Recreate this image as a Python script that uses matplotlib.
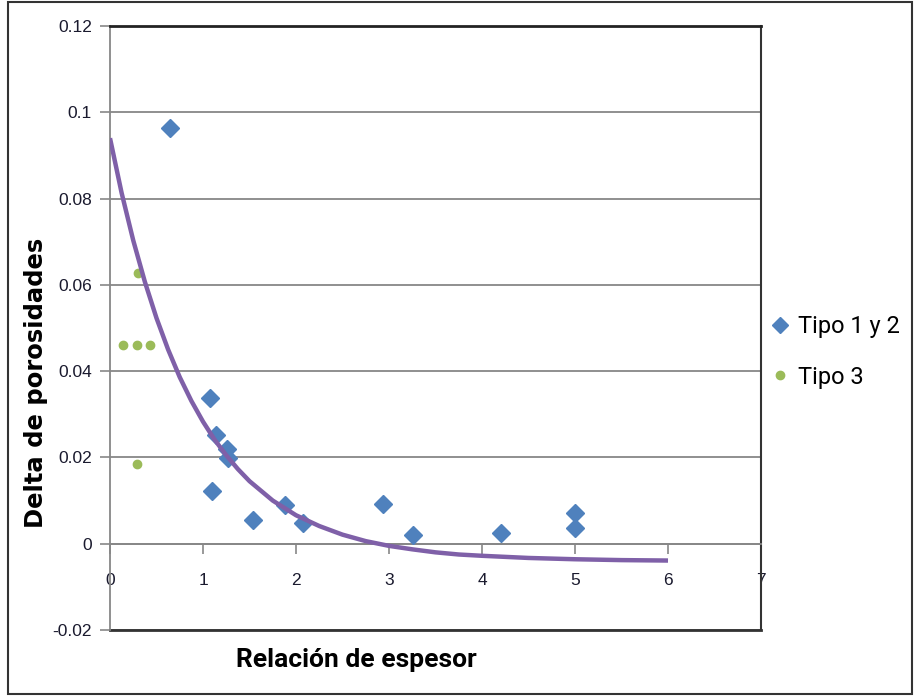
import matplotlib
matplotlib.use("Agg")
import matplotlib.pyplot as plt
from matplotlib.patches import Rectangle
from matplotlib.lines import Line2D

# datos
tipo12_x = [0.65, 1.08, 1.14, 1.26, 1.27, 1.10, 1.54, 1.88, 2.08, 2.94, 3.26, 4.20, 5.00, 5.00]
tipo12_y = [0.0964, 0.0338, 0.0253, 0.0220, 0.0199, 0.0123, 0.0056, 0.0090, 0.0049, 0.0093, 0.0021, 0.0025, 0.0072, 0.0037]

tipo3_x = [0.30, 0.14, 0.29, 0.43, 0.29]
tipo3_y = [0.0628, 0.0461, 0.0461, 0.0461, 0.0185]

# linea de tendencia
trend_x = [0, 0.125, 0.25, 0.375, 0.5, 0.625, 0.75, 0.875, 1.0, 1.125, 1.25, 1.375,
           1.5, 1.75, 2.0, 2.25, 2.5, 2.75, 3.0, 3.25, 3.5, 3.75, 4.0, 4.5, 5.0, 5.5, 6.0]
trend_y = [0.0940, 0.0813, 0.0703, 0.0607, 0.0523, 0.0450, 0.0386, 0.0331, 0.0283,
           0.0241, 0.0205, 0.0173, 0.0145, 0.0100, 0.0066, 0.0041, 0.0021, 0.0006,
           -0.0005, -0.0013, -0.0020, -0.0025, -0.0028, -0.0033, -0.0036, -0.0038, -0.0039]

x_ticks = [0, 1, 2, 3, 4, 5, 6, 7]
y_ticks = [-0.02, 0, 0.02, 0.04, 0.06, 0.08, 0.10, 0.12]
y_labels = ["-0.02", "0", "0.02", "0.04", "0.06", "0.08", "0.1", "0.12"]

azul = "#4F81BD"
verde = "#9BBB59"
morado = "#7F60A8"
gris = "#878787"
narrow = ["Roboto", "DejaVu Sans"]

fig = plt.figure(figsize=(9.17, 6.96), dpi=100)
ax = fig.add_axes([110 / 917, 1 - 630 / 696, (761 - 110) / 917, (630 - 26) / 696])

ax.plot(tipo12_x, tipo12_y, "D", color=azul, ms=9, mec=azul, ls="none", label="Tipo 1 y 2", zorder=3)
ax.plot(tipo3_x, tipo3_y, "o", color=verde, ms=6, mec=verde, ls="none", label="Tipo 3", zorder=3)
ax.plot(trend_x, trend_y, color=morado, lw=3.2, solid_capstyle="butt",
        solid_joinstyle="round", zorder=4)

ax.set_xlim(0, 7)
ax.set_ylim(-0.02, 0.12)
ax.set_xticks(x_ticks)
ax.set_yticks(y_ticks, y_labels)

ax.yaxis.grid(True, color=gris, lw=1.3)
ax.set_axisbelow(True)

ax.spines["bottom"].set_position(("data", 0))
ax.spines["bottom"].set_color(gris)
ax.spines["bottom"].set_linewidth(1.3)
ax.spines["left"].set_color(gris)
ax.spines["left"].set_linewidth(1.3)
ax.spines["top"].set_color("#222222")
ax.spines["top"].set_linewidth(2)
ax.spines["right"].set_color("#333333")
ax.spines["right"].set_linewidth(1.5)
# borde inferior del area de trazado
ax.plot([0, 1], [0, 0], transform=ax.transAxes, color="#333333", lw=2, clip_on=False)

ax.tick_params(axis="y", direction="out", length=7, color=gris, width=1.2, pad=6,
               labelsize=12.5, labelcolor="#1a1a2e")
ax.tick_params(axis="x", direction="out", length=7, color=gris, width=1.2, pad=14,
               labelsize=12.5, labelcolor="#1a1a2e")
for t in ax.get_xticklabels() + ax.get_yticklabels():
    t.set_family(["Liberation Sans", "DejaVu Sans"])

fig.text(36 / 917, 1 - 383 / 696, "Delta de porosidades", rotation=90, ha="center", va="center",
         fontsize=17.5, fontweight="bold", family=["DejaVu Sans"])
fig.text(356 / 917, 1 - 660 / 696, "Relación de espesor", ha="center", va="center",
         fontsize=19, fontweight="bold", family=narrow)

handles = [Line2D([], [], marker="D", color=azul, ls="none", ms=8),
           Line2D([], [], marker="o", color=verde, ls="none", ms=6)]
fig.legend(handles, ["Tipo 1 y 2", "Tipo 3"], loc="center left",
           bbox_to_anchor=(760 / 917, 1 - 352 / 696), frameon=False, borderpad=0,
           handlelength=0.7, handletextpad=0.4, labelspacing=1.15,
           prop={"family": narrow, "size": 17})

fig.patches.append(Rectangle((8 / 917, 2 / 696), (912 - 8) / 917, (694 - 2) / 696,
                             transform=fig.transFigure, fill=False, ec="#333333", lw=1.5))

fig.savefig("out.png", dpi=100)
